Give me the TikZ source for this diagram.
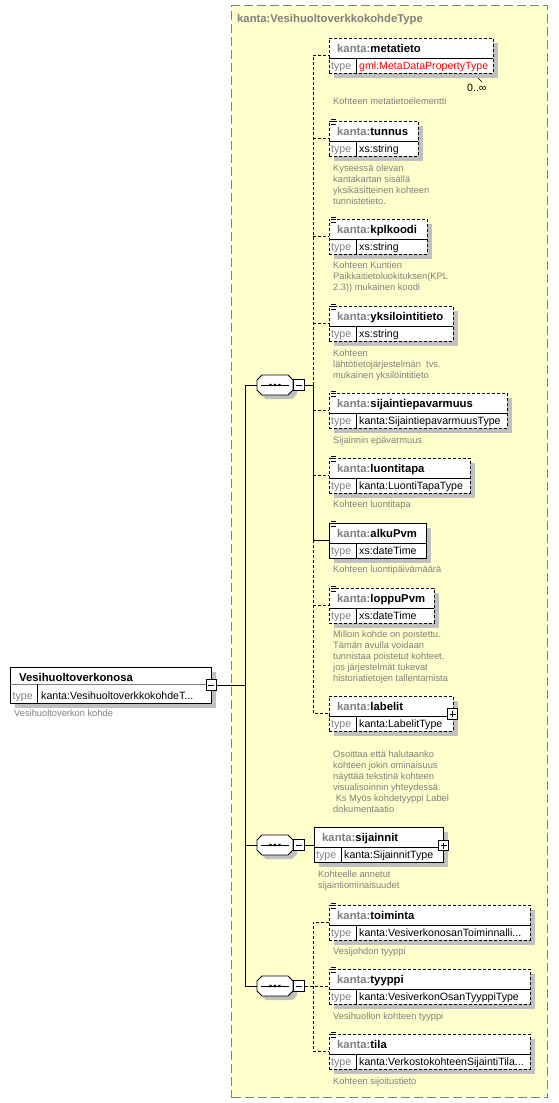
\documentclass[tikz,border=0pt]{standalone}
\usepackage{fontspec}
\setmainfont{Liberation Sans}
\definecolor{ybg}{HTML}{FFFFCC}
\definecolor{kgray}{HTML}{808080}
\definecolor{shd}{HTML}{C0C0C0}
\definecolor{gred}{HTML}{FF0000}
\tikzset{
 elbox/.style={draw=black, fill=white, line width=0.9pt, inner sep=0pt, anchor=north west},
 optbox/.style={elbox, dash pattern=on 3pt off 2pt},
 hdr/.style={font=\fontsize{11.3}{13}\selectfont\bfseries, inner sep=0pt, anchor=base west},
 typ/.style={font=\fontsize{10.6}{12}\selectfont, inner sep=0pt, anchor=base west},
 desc/.style={font=\fontsize{9.3}{11}\selectfont, text=kgray, inner sep=0pt, anchor=base west},
 conn/.style={line width=0.9pt},
 optconn/.style={conn, dash pattern=on 3pt off 2pt},
 seqs/.style={minimum width=36pt, minimum height=20pt, inner sep=0pt},
 pmbox/.style={draw=black, fill=white, minimum size=10.5pt, inner sep=0pt, line width=0.8pt},
}
% element box: name, x, top, width, box style, name text, type text
\newcommand\xelem[7]{%
 \fill[shd] ({#2+5},{#3+5}) rectangle ++(#4,35);
 \node[#5, minimum width=#4pt, minimum height=35pt] (#1) at (#2,#3) {};
 \draw[line width=0.6pt] ({#2},{#3+20}) -- ++(#4,0);
 \draw[line width=0.6pt] ({#2+27},{#3+20}) -- ++(0,15);
 \node[hdr] (#1-h) at ({#2+8},{#3+14}) {\textcolor{kgray}{kanta:}#6};
 \node[typ, text=kgray] (#1-t) at ({#2+2},{#3+31}) {type};
 \node[typ] (#1-v) at ({#2+30},{#3+31}) {#7};
 \coordinate (#1-in) at ({#2},{#3+17});
}
\newcommand\xicon[2]{%
 \draw[line width=0.6pt] ({#1+2},{#2-1.5}) -- ++(5,0) ({#1+2},{#2+0.7}) -- ++(5,0) ({#1+2},{#2+2.9}) -- ++(5,0);
}
\newcommand\xdesc[4]{%
 \foreach \ii [count=\jj] in {#4} {\node[desc] (#1-d\jj) at (#2,{#3+(\jj-1)*11}) {\ii};}
}
% octagon outline centred at (#1,#2), 36 x 20, chamfer 5
\newcommand\xoct[2]{({#1-13},{#2-10}) -- ({#1+13},{#2-10}) -- ({#1+18},{#2-5}) -- ({#1+18},{#2+5}) -- ({#1+13},{#2+10}) -- ({#1-13},{#2+10}) -- ({#1-18},{#2+5}) -- ({#1-18},{#2-5}) -- cycle}
\newcommand\xseq[3]{%
 \fill[shd] \xoct{#2+4}{#3+4};
 \filldraw[fill=white, draw=black, line width=0.8pt] \xoct{#2}{#3};
 \node[seqs] (#1) at (#2,#3) {};
 \draw[line width=0.8pt] ({#2-14},#3) -- ({#2+14},#3);
 \fill ({#2-5.7},{#3-1.2}) rectangle ++(2.4,2.4) ({#2-1.2},{#3-1.2}) rectangle ++(2.4,2.4) ({#2+3.3},{#3-1.2}) rectangle ++(2.4,2.4);
 \node[pmbox] (#1m) at ({#2+24},#3) {};
 \draw[line width=0.8pt] ({#2+21},#3) -- ({#2+27},#3);
}
\newcommand\xplus[3]{%
 \node[pmbox] (#1) at (#2,#3) {};
 \draw[line width=0.8pt] ({#2-3},#3) -- ({#2+3},#3) (#2,{#3-3}) -- (#2,{#3+3});
}
\begin{document}
\begin{tikzpicture}[x=1pt,y=-1pt]
\useasboundingbox (0,0) rectangle (558,1103);
% type container
\node[draw=kgray, fill=ybg, line width=1.2pt, dash pattern=on 9pt off 4pt, minimum width=316pt, minimum height=1092pt, inner sep=0pt, anchor=north west] (ctype) at (231,5) {};
\node[hdr, text=kgray] (ctitle) at (237,22) {kanta:VesihuoltoverkkokohdeType};

% main element
\fill[shd] (15,672) rectangle ++(201.3,36);
\node[elbox, minimum width=201.3pt, minimum height=36pt] (main) at (10,667) {};
\draw[line width=0.6pt, kgray] (10,684) -- (211.3,684);
\draw[line width=0.6pt] (37,684) -- (37,703);
\node[hdr] (main-h) at (19,681) {Vesihuoltoverkonosa};
\node[typ, text=kgray] (main-t) at (12.5,699) {type};
\node[typ] (main-v) at (41,699) {kanta:VesihuoltoverkkokohdeT...};
\node[pmbox] (mainm) at (211.3,685) {};
\draw[line width=0.8pt] (208.3,685) -- (214.3,685);
\node[desc] (main-d) at (14,716) {Vesihuoltoverkon kohde};

% sequences
\xseq{seqa}{275}{385}
\xseq{seqb}{275}{845}
\xseq{seqc}{275}{986}

\coordinate (busx) at (245,0);
\coordinate (busa) at (313,0);

\draw[conn] (mainm.east) -- (busx |- mainm.east);
\draw[conn] (seqa.west) -- (busx |- seqa.west) -- (busx |- seqc.west) -- (seqc.west);
\draw[conn] (seqb.west) -- (busx |- seqb.west);

% elements
\xelem{metatieto}{329}{38}{164}{optbox}{metatieto}{\textcolor{gred}{gml:MetaDataPropertyType}}
\xelem{tunnus}{329}{121}{89}{optbox}{tunnus}{xs:string}
\xelem{kplkoodi}{329}{219}{98}{optbox}{kplkoodi}{xs:string}
\xelem{yksilo}{329}{306}{124}{optbox}{yksilointitieto}{xs:string}
\xelem{sijepa}{329}{393}{178}{optbox}{sijaintiepavarmuus}{kanta:SijaintiepavarmuusType}
\xelem{luonti}{329}{458}{141}{optbox}{luontitapa}{kanta:LuontiTapaType}
\xelem{alku}{329}{523}{97}{elbox}{alkuPvm}{xs:dateTime}
\xelem{loppu}{329}{588}{105}{optbox}{loppuPvm}{xs:dateTime}
\xelem{labelit}{329}{696}{124}{optbox}{labelit}{kanta:LabelitType}
\xelem{sijainnit}{314}{827}{129}{elbox}{sijainnit}{kanta:SijainnitType}
\xelem{toiminta}{329}{905}{201}{optbox}{toiminta}{kanta:VesiverkonosanToiminnalli...}
\xelem{tyyppi}{329}{969}{201}{optbox}{tyyppi}{kanta:VesiverkonOsanTyyppiType}
\xelem{tila}{329}{1034}{201}{optbox}{tila}{kanta:VerkostokohteenSijaintiTila...}

\xicon{329}{121}\xicon{329}{219}\xicon{329}{306}\xicon{329}{393}\xicon{329}{458}
\xicon{329}{523}\xicon{329}{588}\xicon{329}{905}\xicon{329}{969}\xicon{329}{1034}

\xplus{labelitp}{452.5}{714}
\xplus{sijainnitp}{443.5}{845.5}

% multiplicity
\draw[line width=0.6pt] (478,78) -- (482,82);
\node[typ] (mult) at (467,91) {0..∞};

% connectors group 1
\draw[conn] (seqam.east) -- (busa |- seqam.east) -- (busa |- alku-in) -- (alku-in);
\draw[optconn] (busa |- seqam.east) -- (busa |- metatieto-in) -- (metatieto-in);
\draw[optconn] (busa |- alku-in) -- (busa |- labelit-in) -- (labelit-in);
\foreach \e in {tunnus,kplkoodi,yksilo,sijepa,luonti,loppu} {\draw[optconn] (busa |- \e-in) -- (\e-in);}
% group 2
\draw[conn] (seqbm.east) -- (sijainnit.west |- seqbm.east);
% group 3
\draw[optconn] (seqcm.east) -- (tyyppi-in);
\draw[optconn] (toiminta-in) -- (busa |- toiminta-in) -- (busa |- tila-in) -- (tila-in);

% descriptions
\xdesc{metatieto}{333}{104}{Kohteen metatietoelementti}
\xdesc{tunnus}{333}{171}{Kyseessä olevan, kantakartan sisällä, yksikäsitteinen kohteen, tunnistetieto.}
\xdesc{kplkoodi}{333}{268}{Kohteen Kuntien, Paikkaitietoluokituksen(KPL, 2.3)) mukainen koodi}
\xdesc{yksilo}{333}{356}{Kohteen, lähtötietojärjestelmän\ \ tvs., mukainen yksilöintitieto}
\xdesc{sijepa}{333}{443}{Sijainnin epävarmuus}
\xdesc{luonti}{333}{507}{Kohteen luontitapa}
\xdesc{alku}{333}{572}{Kohteen luontipäivämäärä}
\xdesc{loppu}{333}{637}{Milloin kohde on poistettu., Tämän avulla voidaan, {tunnistaa poistetut kohteet,}, jos järjestelmät tukevat, historiatietojen tallentamista}
\xdesc{labelit}{333}{757}{Osoittaa että halutaanko, kohteen jokin ominaisuus, näyttää tekstinä kohteen, visualisoinnin yhteydessä., {\ Ks Myös kohdetyyppi Label}, dokumentaatio}
\xdesc{sijainnit}{318}{877}{Kohteelle annetut, sijaintiominaisuudet}
\xdesc{toiminta}{333}{954}{Vesijohdon tyyppi}
\xdesc{tyyppi}{333}{1019}{Vesihuollon kohteen tyyppi}
\xdesc{tila}{333}{1084}{Kohteen sijoitustieto}
\end{tikzpicture}
\end{document}
